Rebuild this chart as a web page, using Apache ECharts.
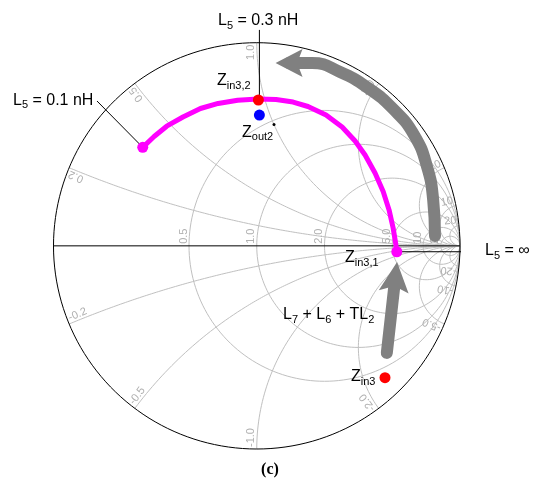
<!DOCTYPE html>
<html>
<head>
<meta charset="utf-8">
<script src="https://cdn.jsdelivr.net/npm/echarts@6/dist/echarts.min.js"></script>
<style>
  html, body { margin: 0; padding: 0; background: #fff; }
  #main { width: 550px; height: 489px; }
</style>
</head>
<body>
<div id="main"></div>
<script>
// Smith chart grid values (normalized impedance)
var resistances = [0.5, 1, 2, 5, 10, 20];
var reactances = [0.2, 0.5, 1, 2, 5, 10, 20];
var tickText = { 0.2: '0.2', 0.5: '0.5', 1: '1.0', 2: '2.0', 5: '5.0', 10: '10', 20: '20' };

// points, in the reflection-coefficient plane [re, im]
var magentaArc = [
  [-0.561, 0.485], [-0.505, 0.538], [-0.443, 0.589], [-0.363, 0.634],
  [-0.277, 0.676], [-0.190, 0.701], [-0.094, 0.717], [0.006, 0.723],
  [0.095, 0.720], [0.179, 0.708], [0.252, 0.686], [0.341, 0.644],
  [0.420, 0.585], [0.484, 0.516], [0.533, 0.447], [0.582, 0.359],
  [0.622, 0.268], [0.651, 0.177], [0.671, 0.088], [0.684, 0.009], [0.689, -0.029]
];
var curvedArrow = [
  [0.877, 0.049], [0.868, 0.226], [0.838, 0.389], [0.774, 0.546],
  [0.671, 0.674], [0.548, 0.777], [0.410, 0.856], [0.272, 0.900], [0.159, 0.900]
];
var straightArrow = [[0.640, -0.527], [0.682, -0.153]];
var zin32 = [0.008, 0.718];
var zout2 = [0.013, 0.644];
var zout2Mark = [0.085, 0.597];
var zin3 = [0.631, -0.649];
var leader03 = [[0.013, 1.063], [0.013, 0.743]];
var leader01 = [[-0.786, 0.713], [-0.561, 0.485]];
var leaderInf = [[0.690, -0.029], [1.114, -0.029]];
var realAxis = [[-1.27, 0], [1, 0]];

var R_PX = 203.2;

function resistanceCircle(r) {
  var c = r / (1 + r), rad = 1 / (1 + r), pts = [];
  for (var i = 0; i <= 360; i += 2) {
    var a = i * Math.PI / 180;
    pts.push([c + rad * Math.cos(a), rad * Math.sin(a)]);
  }
  return pts;
}

function reactanceArc(x) {
  var cy = 1 / x, rad = Math.abs(cy);
  var px = (x * x - 1) / (x * x + 1), py = 2 * x / (x * x + 1);
  var a0 = Math.atan2(py - cy, px - 1), a1;
  if (x > 0) a1 = a0 > 0 ? 1.5 * Math.PI : -0.5 * Math.PI;
  else a1 = a0 < 0 ? -1.5 * Math.PI : 0.5 * Math.PI;
  var pts = [], n = 160;
  for (var i = 0; i <= n; i++) {
    var a = a0 + (a1 - a0) * i / n;
    pts.push([1 + rad * Math.cos(a), cy + rad * Math.sin(a)]);
  }
  return pts;
}

function plainLine(pts, color, width, z) {
  return {
    type: 'line', data: pts, showSymbol: false, symbol: 'none', silent: true,
    clip: false, z: z, lineStyle: { color: color, width: width }
  };
}

// grid tick labels
var gridLabels = [];
resistances.forEach(function (r) {
  gridLabels.push({ pos: [(r - 1) / (r + 1), 2 / R_PX], rot: 90, align: 'left', text: tickText[r] });
});
reactances.forEach(function (x) {
  [x, -x].forEach(function (v) {
    var px = (v * v - 1) / (v * v + 1), py = 2 * v / (v * v + 1);
    var k = 1 - 2 / R_PX;
    var th = Math.atan2(py, px) * 180 / Math.PI;
    gridLabels.push({
      pos: [px * k, py * k],
      rot: v > 0 ? th : th + 180,
      align: v > 0 ? 'right' : 'left',
      text: (v > 0 ? '' : '-') + tickText[x]
    });
  });
});

var series = [];
resistances.forEach(function (r) { series.push(plainLine(resistanceCircle(r), '#c0c0c0', 1, 1)); });
reactances.forEach(function (x) {
  series.push(plainLine(reactanceArc(x), '#c0c0c0', 1, 1));
  series.push(plainLine(reactanceArc(-x), '#c0c0c0', 1, 1));
});
series.push(plainLine(resistanceCircle(0), '#000', 1, 3));
series.push(plainLine(realAxis, '#000', 1, 3));

series.push({
  type: 'custom', silent: true, z: 2, clip: false,
  data: gridLabels.map(function (l) { return l.pos; }),
  renderItem: function (params, api) {
    var l = gridLabels[params.dataIndex];
    var p = api.coord([api.value(0), api.value(1)]);
    return {
      type: 'text', x: p[0], y: p[1], rotation: l.rot * Math.PI / 180,
      style: {
        text: l.text, align: l.align, verticalAlign: 'bottom',
        fill: '#b0b0b0', font: '11px "Liberation Sans", Arial, sans-serif'
      }
    };
  }
});

// leader lines
series.push(plainLine(leader03, '#000', 1, 7));
series.push(plainLine(leader01, '#000', 1, 7));
series.push(plainLine(leaderInf, '#000', 1, 7));

// L5 sweep
series.push({
  type: 'line', data: magentaArc, showSymbol: false, symbol: 'none',
  silent: true, z: 5, lineStyle: { color: '#ff00ff', width: 5, cap: 'round', join: 'round' }
});

// gray arrows: shafts
series.push({
  type: 'line', data: curvedArrow, smooth: true, showSymbol: false, symbol: 'none',
  silent: true, z: 6, lineStyle: { color: '#808080', width: 12, cap: 'round', join: 'round' }
});
series.push({
  type: 'line', data: straightArrow, showSymbol: false, symbol: 'none',
  silent: true, z: 6, lineStyle: { color: '#808080', width: 12, cap: 'round' }
});

// gray arrows: heads, centred on the last shaft point, pointing along the last segment
var arrowHeads = [
  { from: curvedArrow[curvedArrow.length - 2], to: curvedArrow[curvedArrow.length - 1] },
  { from: straightArrow[0], to: straightArrow[1] }
];
var headSize = [[27, 28], [30, 30]];
series.push({
  type: 'custom', silent: true, z: 6, clip: false,
  data: arrowHeads.map(function (h) { return [h.from[0], h.from[1], h.to[0], h.to[1]]; }),
  renderItem: function (params, api) {
    var a = api.coord([api.value(0), api.value(1)]);
    var b = api.coord([api.value(2), api.value(3)]);
    var L = headSize[params.dataIndex][0], W = headSize[params.dataIndex][1];
    var dx = b[0] - a[0], dy = b[1] - a[1], d = Math.sqrt(dx * dx + dy * dy);
    dx /= d; dy /= d;
    var nx = -dy, ny = dx;
    var tip = [b[0] + dx * L / 2, b[1] + dy * L / 2];
    var back = [b[0] - dx * L / 2, b[1] - dy * L / 2];
    var notch = [b[0] - dx * L * 0.3, b[1] - dy * L * 0.3];
    return {
      type: 'polygon',
      shape: { points: [tip, [back[0] + nx * W / 2, back[1] + ny * W / 2], notch,
        [back[0] - nx * W / 2, back[1] - ny * W / 2]] },
      style: { fill: '#808080' }
    };
  }
});

// points
function dots(pts, color, size) {
  return { type: 'scatter', data: pts, symbolSize: size, silent: true, z: 8,
    itemStyle: { color: color, opacity: 1 } };
}
series.push(dots([magentaArc[0], magentaArc[magentaArc.length - 1]], '#ff00ff', 11));
series.push(dots([zin32, zin3], '#ff0000', 11));
series.push(dots([zout2], '#0000ff', 11));
series.push(dots([zout2Mark], '#000', 3));

// annotation texts
var font = '"Liberation Sans", Arial, sans-serif';
var rich = {
  n: { fontSize: 16, fontFamily: font, fill: '#000' },
  s: { fontSize: 11, fontFamily: font, fill: '#000', padding: [9, 0, 0, 0] }
};
var notes = [
  { text: '{n|L}{s|5}{n| = 0.3 nH}', x: 218, y: 21 },
  { text: '{n|L}{s|5}{n| = 0.1 nH}', x: 13, y: 100.5 },
  { text: '{n|Z}{s|in3,2}', x: 217, y: 81 },
  { text: '{n|Z}{s|out2}', x: 242, y: 132.5 },
  { text: '{n|Z}{s|in3,1}', x: 345, y: 258 },
  { text: '{n|L}{s|7}{n| + L}{s|6}{n| + TL}{s|2}', x: 283, y: 315 },
  { text: '{n|Z}{s|in3}', x: 351, y: 377 },
  { text: '{n|L}{s|5}{n| = \u221e}', x: 485, y: 251 }
];
var graphics = notes.map(function (t) {
  return {
    type: 'text', x: t.x, y: t.y, z: 100, silent: true,
    style: { text: t.text, rich: rich, font: '16px ' + font, fill: '#000', align: 'left', verticalAlign: 'middle' }
  };
});
graphics.push({
  type: 'text', x: 270, y: 470, z: 100, silent: true,
  style: { text: '(c)', font: 'bold 16px "Liberation Serif", serif', fill: '#000', align: 'center', verticalAlign: 'middle' }
});

var chart = echarts.init(document.getElementById('main'));
chart.setOption({
  animation: false,
  backgroundColor: '#fff',
  grid: { left: 53.5, top: 42.7, width: 406.5, height: 406.3 },
  xAxis: { type: 'value', min: -1, max: 1, show: false },
  yAxis: { type: 'value', min: -1, max: 1, show: false },
  series: series,
  graphic: graphics
});
</script>
</body>
</html>
